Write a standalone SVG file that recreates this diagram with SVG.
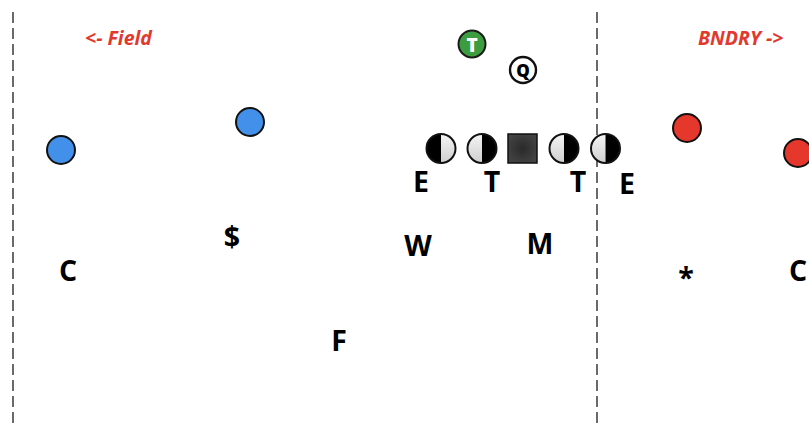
<svg xmlns="http://www.w3.org/2000/svg" width="809" height="425" viewBox="0 0 809 425">
  <style>
    .bg { fill: #ffffff; }
    .hash { stroke: #3a3a3a; stroke-width: 1.5; stroke-dasharray: 11 5; fill: none; }
    .dir { font-family: "Open Sans", "Liberation Sans", sans-serif; font-weight: 700; font-style: italic; font-size: 19.5px; fill: #e2392e; }
    .lbl { font-family: "Open Sans", "Liberation Sans", sans-serif; font-weight: 700; font-size: 28.5px; fill: #000000; text-anchor: middle; }
    .blue { fill: #4390ea; stroke: #111111; stroke-width: 2; }
    .red { fill: #e5372b; stroke: #111111; stroke-width: 2; }
    .olDark { fill: #000000; }
    .olLight { fill: url(#halfShade); }
    .olRim { fill: none; stroke: #111111; stroke-width: 2; }
  </style>
  <defs>
    <linearGradient id="halfShade" x1="0" y1="0" x2="0" y2="1">
      <stop offset="0" stop-color="#f4f4f4"/>
      <stop offset="1" stop-color="#cfcfcf"/>
    </linearGradient>
    <radialGradient id="centerShade" cx="0.5" cy="0.5" r="0.6">
      <stop offset="0" stop-color="#2a2a2a"/>
      <stop offset="1" stop-color="#444444"/>
    </radialGradient>
  </defs>

  <rect class="bg" x="0" y="0" width="809" height="425"/>

  <!-- hash marks -->
  <g id="hash-marks">
    <line class="hash" x1="13" y1="12" x2="13" y2="425"/>
    <line class="hash" x1="597" y1="12" x2="597" y2="425"/>
  </g>

  <!-- direction labels -->
  <g id="field-label"><text class="dir" x="85" y="45">&lt;- Field</text></g>
  <g id="boundary-label"><text class="dir" x="698" y="45">BNDRY -&gt;</text></g>

  <!-- offense: receivers -->
  <g id="wr-field-wide"><circle class="blue" cx="61" cy="150" r="14"/></g>
  <g id="wr-field-slot"><circle class="blue" cx="250" cy="122" r="14"/></g>
  <g id="wr-bndry-slot"><circle class="red" cx="687" cy="128" r="14"/></g>
  <g id="wr-bndry-wide"><circle class="red" cx="798" cy="153" r="14"/></g>

  <!-- backfield -->
  <g id="tailback">
    <circle cx="472" cy="44" r="13.5" fill="#3c9c40" stroke="#1a1a1a" stroke-width="2"/>
    <text x="472" y="51.5" font-family="Open Sans, Liberation Sans, sans-serif" font-weight="800" font-size="19" fill="#ffffff" text-anchor="middle">T</text>
  </g>
  <g id="quarterback">
    <circle cx="523" cy="70" r="13" fill="#ffffff" stroke="#111111" stroke-width="2.4"/>
    <text x="523" y="76.5" font-family="Open Sans, Liberation Sans, sans-serif" font-weight="800" font-size="17" fill="#000000" text-anchor="middle">Q</text>
  </g>

  <!-- offensive line -->
  <g id="ol-left-tackle">
    <path class="olDark" d="M441,134 A14.5,14.5 0 0 0 441,163 Z"/>
    <path class="olLight" d="M441,134 A14.5,14.5 0 0 1 441,163 Z"/>
    <circle class="olRim" cx="441" cy="148.5" r="14.5"/>
  </g>
  <g id="ol-left-guard">
    <path class="olLight" d="M482,134 A14.5,14.5 0 0 0 482,163 Z"/>
    <path class="olDark" d="M482,134 A14.5,14.5 0 0 1 482,163 Z"/>
    <circle class="olRim" cx="482" cy="148.5" r="14.5"/>
  </g>
  <g id="ol-center">
    <rect x="508" y="134" width="29" height="29" fill="url(#centerShade)" stroke="#111111" stroke-width="1.5"/>
  </g>
  <g id="ol-right-guard">
    <path class="olLight" d="M564,134 A14.5,14.5 0 0 0 564,163 Z"/>
    <path class="olDark" d="M564,134 A14.5,14.5 0 0 1 564,163 Z"/>
    <circle class="olRim" cx="564" cy="148.5" r="14.5"/>
  </g>
  <g id="ol-right-tackle">
    <path class="olLight" d="M605.5,134 A14.5,14.5 0 0 0 605.5,163 Z"/>
    <path class="olDark" d="M605.5,134 A14.5,14.5 0 0 1 605.5,163 Z"/>
    <circle class="olRim" cx="605.5" cy="148.5" r="14.5"/>
  </g>

  <!-- defense -->
  <g id="def-end-field"><text class="lbl" x="421" y="192">E</text></g>
  <g id="def-tackle-1"><text class="lbl" x="492" y="192">T</text></g>
  <g id="def-tackle-2"><text class="lbl" x="578" y="192">T</text></g>
  <g id="def-end-bndry"><text class="lbl" x="627" y="194">E</text></g>
  <g id="def-money"><text class="lbl" x="232" y="247">$</text></g>
  <g id="def-will"><text class="lbl" x="418" y="256">W</text></g>
  <g id="def-mike"><text class="lbl" x="540" y="254">M</text></g>
  <g id="def-corner-field"><text class="lbl" x="68" y="281">C</text></g>
  <g id="def-star"><text class="lbl" x="686" y="288">*</text></g>
  <g id="def-corner-bndry"><text class="lbl" x="798" y="281">C</text></g>
  <g id="def-free"><text class="lbl" x="339" y="351">F</text></g>
</svg>
